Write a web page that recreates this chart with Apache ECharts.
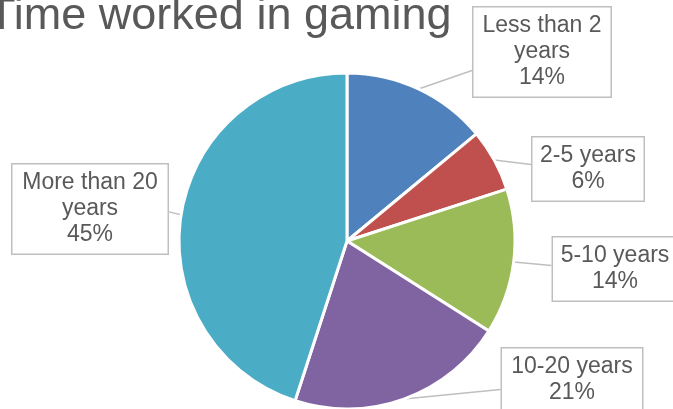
<!DOCTYPE html>
<html>
<head>
<meta charset="utf-8">
<script src="https://cdn.jsdelivr.net/npm/echarts@6/dist/echarts.min.js"></script>
<style>
  html, body { margin: 0; padding: 0; background: #fff; }
  #chart { width: 673px; height: 409px; }
</style>
</head>
<body>
<div id="chart"></div>
<script>
// Share of respondents by time worked in the games industry
const categories = ['Less than 2 years', '2-5 years', '5-10 years', '10-20 years', 'More than 20 years'];
const calloutText = ['Less than 2\nyears', '2-5 years', '5-10 years', '10-20 years', 'More than 20\nyears'];
const shares = [14, 6, 14, 21, 45];
const sliceColors = ['#4F81BD', '#C0504D', '#9BBB59', '#8064A2', '#4BACC6'];

// Callout placement (centre of each label box) and box content width
const calloutPos = [[542, 52], [588, 169], [615, 269], [572, 380], [90, 209]];
const calloutWidth = [119, 93, 106, 122, 137];

const FONT = '"Liberation Sans", Arial, sans-serif';

const chart = echarts.init(document.getElementById('chart'), null, { renderer: 'canvas' });

chart.setOption({
  animation: false,
  backgroundColor: '#fff',
  graphic: [{
    type: 'text',
    left: -12,
    top: -6,
    style: {
      text: 'Time worked in gaming',
      font: 'normal 45px ' + FONT,
      fill: '#595959'
    }
  }],
  series: [{
    type: 'pie',
    center: [347, 241],
    radius: 168,
    startAngle: 90,
    clockwise: true,
    avoidLabelOverlap: false,
    itemStyle: { borderColor: '#fff', borderWidth: 3 },
    label: {
      show: true,
      position: 'outside',
      formatter: function (p) {
        return calloutText[p.dataIndex] + '\n' + p.value + '%';
      },
      fontFamily: FONT,
      fontSize: 23,
      lineHeight: 26,
      color: '#595959',
      align: 'center',
      overflow: 'none',
      backgroundColor: '#fff',
      borderColor: '#BFBFBF',
      borderWidth: 1.5,
      padding: [8, 9, 3, 9]
    },
    labelLine: {
      show: true,
      lineStyle: { color: '#BFBFBF', width: 1.5 }
    },
    labelLayout: function (params) {
      const p = calloutPos[params.dataIndex];
      const rect = params.labelRect;
      const tip = params.labelLinePoints[0];
      const halfW = rect.width / 2;
      const halfH = rect.height / 2;
      // leader runs straight from the slice edge to the near side of the box
      const edgeX = tip[0] < p[0] ? p[0] - halfW : p[0] + halfW;
      let edgeY = (tip[1] + p[1]) / 2;
      edgeY = Math.max(p[1] - halfH + 8, Math.min(p[1] + halfH - 8, edgeY));
      return {
        x: p[0],
        y: p[1],
        align: 'center',
        verticalAlign: 'middle',
        labelLinePoints: [tip, [edgeX, edgeY], [edgeX, edgeY]]
      };
    },
    data: categories.map(function (name, i) {
      return {
        name: name,
        value: shares[i],
        itemStyle: { color: sliceColors[i] },
        label: { width: calloutWidth[i] }
      };
    })
  }]
});
</script>
</body>
</html>
